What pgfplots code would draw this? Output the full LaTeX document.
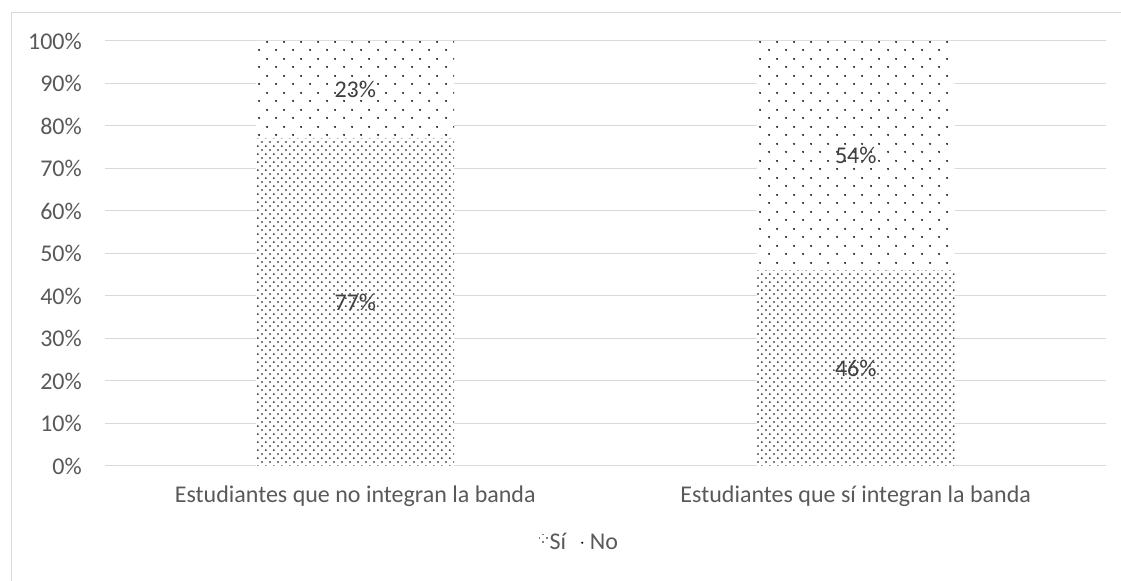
\documentclass[border=0pt]{standalone}
\usepackage{fontspec}
\setmainfont{Carlito}
\usepackage{pgfplots}
\pgfplotsset{compat=1.18}
\usetikzlibrary{patterns}
\definecolor{cgrid}{HTML}{D9D9D9}
\definecolor{ctick}{HTML}{595959}
\definecolor{clab}{HTML}{404040}
\pgfdeclarepatternformonly{sparsedots}{\pgfpoint{0bp}{0bp}}{\pgfpoint{17bp}{17bp}}{\pgfpoint{17bp}{17bp}}{%
  \pgfpathcircle{\pgfpoint{4.25bp}{4.25bp}}{1.1bp}%
  \pgfpathcircle{\pgfpoint{12.75bp}{12.75bp}}{1.1bp}%
  \pgfusepath{fill}}
\pgfdeclarepatternformonly{densedots}{\pgfpoint{0bp}{0bp}}{\pgfpoint{8.4bp}{8.4bp}}{\pgfpoint{8.4bp}{8.4bp}}{%
  \pgfpathcircle{\pgfpoint{2.1bp}{2.1bp}}{0.95bp}%
  \pgfpathcircle{\pgfpoint{6.3bp}{6.3bp}}{0.95bp}%
  \pgfusepath{fill}}
\begin{document}
\begin{tikzpicture}
\useasboundingbox (0,0) rectangle (1121bp,581bp);
\draw[cgrid, line width=1bp] (11.5bp,0bp) -- (11.5bp,568.5bp) -- (1121bp,568.5bp);
\begin{axis}[
  at={(105bp,115bp)}, anchor=south west,
  scale only axis, width=1001bp, height=425bp,
  ybar stacked, bar width=198bp,
  xmin=-0.5, xmax=1.5, ymin=0, ymax=100,
  enlargelimits=false,
  xtick={0,1},
  xticklabels={Estudiantes que no integran la banda, Estudiantes que sí integran la banda},
  ytick={0,10,...,100},
  yticklabel={\pgfmathprintnumber[fixed]{\tick}\%},
  /pgf/number format/assume math mode=true,
  font=\fontsize{24bp}{28bp}\selectfont,
  ticklabel style={text=ctick, inner sep=0pt},
  yticklabel style={anchor=east, xshift=-23bp},
  xticklabel style={anchor=base, yshift=-37bp},
  major tick length=0pt,
  ymajorgrids,
  grid style={draw=cgrid, line width=1bp},
  axis x line*=bottom,
  axis y line*=left,
  x axis line style={draw=cgrid, line width=1bp},
  y axis line style={draw=none},
  visualization depends on=rawy \as \rawy,
  nodes near coords={\pgfmathprintnumber[fixed,precision=0]{\rawy}\%},
  every node near coord/.append style={anchor=center, text=clab, inner sep=0pt,
     font=\fontsize{24bp}{28bp}\selectfont},
  legend style={at={(0.4336,-0.179)}, anchor=west, draw=none, fill=none, inner sep=0pt,
     legend columns=2, font=\fontsize{24bp}{28bp}\selectfont, text=ctick,
     /tikz/every even column/.append style={column sep=11.5bp},
     nodes={inner sep=1.5bp}},
  legend image code/.code={\fill[#1, draw=none] (0bp,-1bp) rectangle (9bp,8bp);},
]
\addplot[draw=none, fill=white, postaction={pattern=densedots, pattern color=black}] coordinates {(0,77) (1,46)};
\addplot[draw=none, fill=white, postaction={pattern=sparsedots, pattern color=black}] coordinates {(0,23) (1,54)};
\legend{Sí, No}
\end{axis}
\end{tikzpicture}
\end{document}
